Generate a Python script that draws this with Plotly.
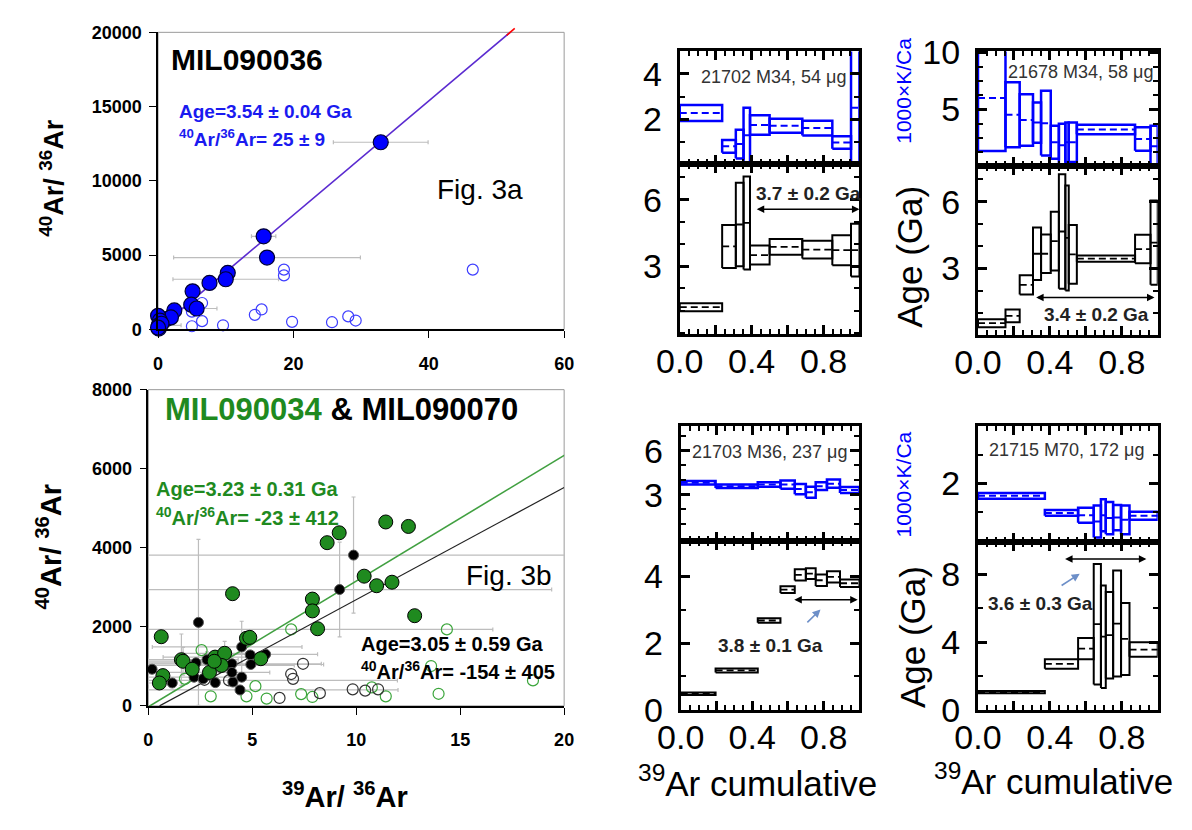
import plotly.graph_objects as go

W, H = 1192, 830
FONT = "Liberation Sans, Arial, Helvetica, sans-serif"
BLUE = "#0000ff"
TXTBLUE = "#1a1af0"
GREEN = "#1f8a1f"
GREEN_LINE = "#41a041"
GRAY = "#bdbdbd"

# ---------------- Fig. 3a  MIL090036 isochron ----------------
a_fill_x = [32.9, 15.6, 16.1, 10.3, 10.0, 7.6, 5.1, 4.9, 5.7, 2.4, 1.25, 1.9, 0.0, 0.27, 0.1, 0.1, 0.5, 0.0]
a_fill_y = [12600, 6270, 4840, 3810, 3380, 3130, 2570, 1670, 1410, 1280, 700, 810, 920, 600, 280, 60, 385, 130]
a_fill_ex = [7.0, 1.8, 13.8, 0, 7.8, 0, 0, 0, 3.0, 0, 0, 0, 1.5, 0, 3.3, 0, 0, 0]
a_open_x = [46.5, 18.6, 18.6, 15.3, 14.3, 19.8, 25.7, 28.1, 29.2, 9.6, 6.5, 6.5, 5.0, 5.0]
a_open_y = [4030, 4030, 3640, 1350, 985, 514, 490, 880, 600, 280, 560, 1780, 215, 1200]
a_fit_x = [0, 52.6]
a_fit_y = [25, 20225]
a_tail_x = [51.5, 52.7]
a_tail_y = [19800, 20260]

# ---------------- Fig. 3b  MIL090034 & MIL090070 ----------------
b_green_x = [0.62, 0.70, 0.53, 1.59, 1.67, 2.11, 2.94, 3.21, 3.67, 3.52, 4.05, 4.72, 4.88, 5.41,
             7.89, 7.89, 8.14, 8.60, 9.18, 10.38, 10.98, 11.42, 11.72, 12.51, 12.81, 3.17]
b_green_y = [1750, 766, 580, 1169, 1129, 927, 847, 1234, 1331, 1024, 2839, 1710, 1734, 1194,
             2702, 2403, 1952, 4129, 4379, 3282, 3040, 4653, 3129, 4540, 2282, 1129]
b_black_x = [0.18, 1.15, 2.41, 2.20, 2.29, 2.82, 3.22, 4.02, 4.07, 4.41, 4.49, 4.90, 4.93, 5.64,
             9.20, 9.87, 4.49, 4.02, 2.64]
b_black_y = [927, 580, 2113, 726, 1089, 1169, 589, 1065, 605, 403, 1492, 1290, 1048, 1306,
             2944, 3815, 726, 847, 685]
b_gopen_x = [2.56, 3.0, 4.72, 5.15, 5.69, 6.87, 7.35, 7.89, 10.75, 11.42, 13.6, 13.96, 14.36, 18.5, 1.76]
b_gopen_y = [1411, 242, 242, 500, 185, 1935, 298, 226, 468, 242, 1008, 306, 1935, 645, 685]
b_kopen_x = [6.31, 6.96, 6.87, 7.44, 8.25, 9.83, 10.43, 11.05, 3.88, 2.7]
b_kopen_y = [202, 685, 806, 1065, 323, 419, 387, 419, 645, 660]
# error bars (points carrying visible gray error bars)
b_eb_x = [9.87, 9.20, 2.41, 6.87, 4.49, 1.59, 3.21, 3.52, 2.29, 4.02, 2.94, 2.20, 0.53, 4.93, 3.88, 4.41, 1.67, 3.67, 5.64, 2.82]
b_eb_y = [3815, 2944, 2113, 1935, 1492, 1169, 1234, 1024, 1089, 1065, 847, 726, 580, 1048, 645, 403, 1129, 1331, 1306, 1169]
b_eb_xm = [9.87, 9.20, 0, 6.87, 4.3, 1.59, 2.5, 3.5, 2.29, 4.0, 2.9, 2.2, 0.53, 3.5, 3.88, 4.41, 1.67, 2.0, 2.5, 2.82]
b_eb_xp = [10.6, 10.2, 0, 9.7, 2.9, 1.6, 2.5, 3.5, 2.2, 4.3, 2.9, 2.0, 0.6, 3.5, 8.1, 7.6, 1.0, 2.0, 2.5, 1.5]
b_eb_ey = [1470, 1200, 2100, 0, 650, 650, 0, 0, 0, 0, 0, 0, 0, 0, 0, 0, 350, 300, 0, 200]
b_green_fit_x = [0, 20.3]
b_green_fit_y = [-23, 6432]
b_black_fit_x = [0.54, 20.0]
b_black_fit_y = [0, 5526]

# ---------------- Step-heating spectra ----------------
s1_edges = [0, 0.236, 0.312, 0.355, 0.391, 0.50, 0.682, 0.849, 0.953, 1.0]
s1_kca = [2.27, 0.79, 0.89, 1.28, 1.74, 1.70, 1.60, 0.96, 2.5]
s1_kca_err = [0.35, 0.28, 0.64, 1.22, 0.43, 0.31, 0.33, 0.28, 4.0]
s1_age = [1.15, 3.89, 4.88, 4.95, 3.50, 3.87, 3.75, 3.72, 3.72]
s1_age_err = [0.18, 0.97, 1.88, 2.10, 0.43, 0.36, 0.40, 0.68, 1.19]

s2_edges = [0, 0.153, 0.232, 0.306, 0.351, 0.405, 0.45, 0.486, 0.505, 0.55, 0.874, 0.96, 1.0]
s2_kca = [6.0, 4.53, 4.06, 3.83, 3.78, 2.1, 1.83, 2.1, 2.1, 3.22, 2.39, 1.75]
s2_kca_err = [4.67, 2.86, 2.26, 1.78, 2.85, 1.46, 1.9, 1.75, 1.75, 0.42, 1.04, 1.8]
s2_age = [0.54, 0.87, 2.26, 3.66, 3.66, 4.23, 4.66, 4.37, 3.63, 3.44, 3.87, 4.16]
s2_age_err = [0.18, 0.29, 0.43, 1.18, 0.86, 1.32, 2.57, 2.36, 1.32, 0.14, 0.64, 1.89]

s3_edges = [0, 0.195, 0.431, 0.558, 0.638, 0.70, 0.755, 0.818, 0.891, 1.0]
s3_kca = [3.83, 3.59, 3.70, 3.70, 3.39, 3.17, 3.59, 3.76, 3.33]
s3_kca_err = [0.12, 0.12, 0.15, 0.28, 0.35, 0.38, 0.27, 0.28, 0.20]
s3_age = [0.48, 1.18, 2.68, 3.61, 4.05, 4.09, 3.89, 3.99, 3.80]
s3_age_err = [0.04, 0.06, 0.07, 0.10, 0.17, 0.16, 0.17, 0.17, 0.11]

s4_edges = [0, 0.372, 0.557, 0.644, 0.684, 0.711, 0.752, 0.796, 0.843, 1.0]
s4_kca = [1.78, 1.48, 1.44, 1.33, 1.44, 1.39, 1.40, 1.36, 1.43]
s4_kca_err = [0.05, 0.05, 0.13, 0.28, 0.28, 0.28, 0.22, 0.25, 0.07]
s4_age = [1.04, 2.71, 3.62, 5.06, 4.32, 4.41, 5.10, 4.19, 3.56]
s4_age_err = [0.07, 0.28, 0.63, 3.57, 3.03, 2.56, 3.14, 2.13, 0.43]

sample_labels = ["21702 M34, 54 μg", "21678 M34, 58 μg", "21703 M36, 237 μg", "21715 M70, 172 μg"]
plateau_labels = ["3.7 ± 0.2 Ga", "3.4 ± 0.2 Ga", "3.8 ± 0.1 Ga", "3.6 ± 0.3 Ga"]
plateau_x = [[0.42, 1.0], [0.315, 0.982], [0.627, 0.99], [0.476, 0.937]]
plateau_y = [5.57, 1.69, 3.3, 8.92]

# ------------------------------------------------------------
def px(x):
    return x / W


def py(y):
    return 1 - y / H


fig = go.Figure()

# ---- Fig 3a traces ----
sel = [(x, y, e) for x, y, e in zip(a_fill_x, a_fill_y, a_fill_ex) if e]
fig.add_trace(go.Scatter(x=[s[0] for s in sel], y=[s[1] for s in sel], mode="markers",
                         marker=dict(size=1, color="rgba(0,0,0,0)"),
                         error_x=dict(type="data", array=[s[2] for s in sel], color=GRAY, thickness=1.2, width=2),
                         xaxis="x", yaxis="y", hoverinfo="skip"))
fig.add_trace(go.Scatter(x=a_open_x, y=a_open_y, mode="markers",
                         marker=dict(symbol="circle-open", size=11, color="#3c3cff", line=dict(width=1.2)),
                         xaxis="x", yaxis="y", cliponaxis=False))
fig.add_trace(go.Scatter(x=a_fit_x, y=a_fit_y, mode="lines", line=dict(color="#5b2bd0", width=1.6),
                         xaxis="x", yaxis="y"))
fig.add_trace(go.Scatter(x=a_fill_x, y=a_fill_y, mode="markers",
                         marker=dict(size=15, color=BLUE, line=dict(color="#000033", width=1.2)),
                         xaxis="x", yaxis="y", cliponaxis=False))

# ---- Fig 3b traces ----
fig.add_trace(go.Scatter(x=b_eb_x, y=b_eb_y, mode="markers", marker=dict(size=1, color="rgba(0,0,0,0)"),
                         error_x=dict(type="data", symmetric=False, array=b_eb_xp, arrayminus=b_eb_xm,
                                      color=GRAY, thickness=1.2, width=2),
                         error_y=dict(type="data", array=b_eb_ey, color=GRAY, thickness=1.2, width=2),
                         xaxis="x2", yaxis="y2", hoverinfo="skip"))
fig.add_trace(go.Scatter(x=b_gopen_x, y=b_gopen_y, mode="markers",
                         marker=dict(symbol="circle-open", size=11, color="#3aa53a", line=dict(width=1.2)),
                         xaxis="x2", yaxis="y2", cliponaxis=False))
fig.add_trace(go.Scatter(x=b_kopen_x, y=b_kopen_y, mode="markers",
                         marker=dict(symbol="circle-open", size=11, color="#333333", line=dict(width=1.2)),
                         xaxis="x2", yaxis="y2", cliponaxis=False))
fig.add_trace(go.Scatter(x=b_green_fit_x, y=b_green_fit_y, mode="lines", line=dict(color=GREEN_LINE, width=1.6),
                         xaxis="x2", yaxis="y2"))
fig.add_trace(go.Scatter(x=b_black_fit_x, y=b_black_fit_y, mode="lines", line=dict(color="#222222", width=1.2),
                         xaxis="x2", yaxis="y2"))
fig.add_trace(go.Scatter(x=b_black_x, y=b_black_y, mode="markers",
                         marker=dict(size=10, color="black", line=dict(color="#555555", width=1)),
                         xaxis="x2", yaxis="y2", cliponaxis=False))
fig.add_trace(go.Scatter(x=b_green_x, y=b_green_y, mode="markers",
                         marker=dict(size=14, color=GREEN, line=dict(color="black", width=1)),
                         xaxis="x2", yaxis="y2", cliponaxis=False))


# ---- spectra ----
def boxes(edges, vals, errs):
    xs, ys, cx, cy = [], [], [], []
    for i, (v, e) in enumerate(zip(vals, errs)):
        x0, x1 = edges[i], edges[i + 1]
        xs += [x0, x1, x1, x0, x0, None]
        ys += [v - e, v - e, v + e, v + e, v - e, None]
        cx += [x0, x1, None]
        cy += [v, v, None]
    return xs, ys, cx, cy


spectra = [
    (s1_edges, s1_kca, s1_kca_err, s1_age, s1_age_err),
    (s2_edges, s2_kca, s2_kca_err, s2_age, s2_age_err),
    (s3_edges, s3_kca, s3_kca_err, s3_age, s3_age_err),
    (s4_edges, s4_kca, s4_kca_err, s4_age, s4_age_err),
]

for k, (edges, kca, kerr, age, aerr) in enumerate(spectra):
    ui, li = 3 + 2 * k, 4 + 2 * k
    xs, ys, cx, cy = boxes(edges, kca, kerr)
    fig.add_trace(go.Scatter(x=xs, y=ys, mode="lines", line=dict(color=BLUE, width=2.5),
                             xaxis=f"x{ui}", yaxis=f"y{ui}"))
    fig.add_trace(go.Scatter(x=cx, y=cy, mode="lines", line=dict(color=BLUE, width=2, dash="7px,4px"),
                             xaxis=f"x{ui}", yaxis=f"y{ui}"))
    xs, ys, cx, cy = boxes(edges, age, aerr)
    fig.add_trace(go.Scatter(x=xs, y=ys, mode="lines", line=dict(color="black", width=2),
                             xaxis=f"x{li}", yaxis=f"y{li}"))
    fig.add_trace(go.Scatter(x=cx, y=cy, mode="lines", line=dict(color="black", width=1.8, dash="7px,4px"),
                             xaxis=f"x{li}", yaxis=f"y{li}"))

# ---------------- layout ----------------
layout = dict(width=W, height=H, margin=dict(l=0, r=0, t=0, b=0), paper_bgcolor="white",
              plot_bgcolor="white", showlegend=False, font=dict(family=FONT, color="black"))

sc_tick = dict(family=FONT, size=18, color="black", weight="bold")
sc_axis = dict(showline=True, linecolor="black", linewidth=1.5, ticks="outside", ticklen=7, tickwidth=1.3,
               tickcolor="black", showgrid=False, zeroline=False, tickfont=sc_tick, mirror=False,
               tickformat="d")

layout["xaxis"] = dict(sc_axis, domain=[px(138), px(556)], range=[0, 60], tickvals=[0, 20, 40, 60],
                       anchor="y", ticklabelstandoff=10)
layout["yaxis"] = dict(sc_axis, domain=[py(326), py(15)], range=[0, 20000],
                       tickvals=[0, 5000, 10000, 15000, 20000], anchor="x", ticklabelstandoff=4)
layout["xaxis2"] = dict(sc_axis, domain=[px(128), px(556)], range=[0, 20], tickvals=[0, 5, 10, 15, 20],
                        anchor="y2", ticklabelstandoff=10)
layout["yaxis2"] = dict(sc_axis, domain=[py(720), py(389)], range=[0, 8000],
                        tickvals=[0, 2000, 4000, 6000, 8000], anchor="x2", ticklabelstandoff=4)

sp_font = dict(family=FONT, size=34, color="black")
sp_common = dict(showline=True, linecolor="black", linewidth=3, mirror="ticks", ticks="inside", ticklen=9,
                 tickwidth=2.5, tickcolor="black", showgrid=False, zeroline=False, tickfont=sp_font)

panels = [
    dict(x=(675, 860), yt=35, yd=153, yb=331, kr=[0, 5.0], ar=[-0.07, 7.6], kt=[2, 4], km=1, at=[3, 6], am=1),
    dict(x=(982, 1167), yt=35, yd=155, yb=332, kr=[0, 10.1], ar=[0, 7.6], kt=[5, 10], km=1.25, at=[3, 6], am=1),
    dict(x=(676, 860), yt=427, yd=547, yb=724, kr=[-0.13, 7.7], ar=[0, 5.08], kt=[3, 6], km=1, at=[0, 2, 4], am=1),
    dict(x=(982, 1167), yt=427, yd=548, yb=724, kr=[0.98, 3.0], ar=[0, 9.95], kt=[2], km=0.5, at=[0, 4, 8], am=2),
]
xt_vals = [0, 0.2, 0.4, 0.6, 0.8, 1.0]
xt_text = ["0.0", "", "0.4", "", "0.8", ""]


def minor(dt):
    return dict(ticks="inside", ticklen=5, tickwidth=2, tickcolor="black", tickmode="linear", tick0=0, dtick=dt,
                showgrid=False)


for k, p in enumerate(panels):
    ui, li = 3 + 2 * k, 4 + 2 * k
    xd = [px(p["x"][0]), px(p["x"][1])]
    layout[f"xaxis{ui}"] = dict(sp_common, domain=xd, range=[0, 1], tickvals=xt_vals, showticklabels=False,
                                anchor=f"y{ui}", minor=minor(0.05))
    layout[f"yaxis{ui}"] = dict(sp_common, domain=[py(p["yd"]), py(p["yt"])], range=p["kr"],
                                tickvals=p["kt"], ticktext=[str(v) for v in p["kt"]], anchor=f"x{ui}",
                                minor=minor(p["km"]), ticklabelstandoff=8)
    layout[f"xaxis{li}"] = dict(sp_common, domain=xd, range=[0, 1], tickvals=xt_vals, ticktext=xt_text,
                                anchor=f"y{li}", minor=minor(0.05), ticklabelstandoff=-5)
    layout[f"yaxis{li}"] = dict(sp_common, domain=[py(p["yb"]), py(p["yd"])], range=p["ar"],
                                tickvals=p["at"], ticktext=[str(v) for v in p["at"]], anchor=f"x{li}",
                                minor=minor(p["am"]), ticklabelstandoff=8)

# gray top/right frames on the isochron plots
shapes = []
for ax in ["", "2"]:
    shapes.append(dict(type="rect", xref=f"x{ax} domain", yref=f"y{ax} domain", x0=0, x1=1, y0=0, y1=1,
                       line=dict(color="#9a9a9a", width=1), layer="below"))
# red tail of the 3a fit line (runs just past the frame)
shapes.append(dict(type="line", xref="x domain", yref="y domain",
                   x0=a_tail_x[0] / 60, x1=a_tail_x[1] / 60, y0=a_tail_y[0] / 20000, y1=a_tail_y[1] / 20000,
                   line=dict(color="red", width=1.6)))
layout["shapes"] = shapes

ann = []


def text(t, x, y, size, color="black", bold=False, xanchor="center", angle=0):
    if bold:
        t = f"<b>{t}</b>"
    ann.append(dict(text=t, x=px(x), y=py(y), xref="paper", yref="paper", showarrow=False,
                    xanchor=xanchor, yanchor="middle", textangle=angle,
                    font=dict(family=FONT, size=size, color=color)))


# Fig 3a texts
text("MIL090036", 149, 43, 30, bold=True, xanchor="left")
text("Age=3.54 ± 0.04 Ga", 158, 98, 19, TXTBLUE, True, "left")
text("<sup>40</sup>Ar/<sup>36</sup>Ar= 25 ± 9", 158, 126, 19, TXTBLUE, True, "left")
text("Fig. 3a", 423, 180, 28, xanchor="left")
text("<sup>40</sup>Ar/ <sup>36</sup>Ar", 28, 167, 27, bold=True, angle=-90)

# Fig 3b texts
text(f"<span style='color:{GREEN}'>MIL090034</span> & MIL090070", 143, 410, 31, bold=True, xanchor="left")
text("Age=3.23 ± 0.31 Ga", 134, 493, 20, GREEN, True, "left")
text("<sup>40</sup>Ar/<sup>36</sup>Ar= -23 ± 412", 134, 522, 20, GREEN, True, "left")
text("Age=3.05 ± 0.59 Ga", 345, 655, 20, "black", True, "left")
text("<sup>40</sup>Ar/<sup>36</sup>Ar= -154 ± 405", 345, 683, 20, "black", True, "left")
text("Fig. 3b", 453, 584, 28, xanchor="left")
text("<sup>40</sup>Ar/ <sup>36</sup>Ar", 26, 553, 29, bold=True, angle=-90)
text("<sup>39</sup>Ar/ <sup>36</sup>Ar", 330, 813, 29, bold=True)

# spectra texts
sample_pos = [(771, 62), (1088, 57), (768, 454), (1074, 452)]
plateau_pos = [(808, 184), (1104, 310), (768, 657), (1046, 613)]
for k in range(4):
    text(sample_labels[k], sample_pos[k][0], sample_pos[k][1], 18, "#333333")
    text(plateau_labels[k], plateau_pos[k][0], plateau_pos[k][1], 19, "#222222", True)
    li = 4 + 2 * k
    ann.append(dict(x=plateau_x[k][1], y=plateau_y[k], ax=plateau_x[k][0], ay=plateau_y[k],
                    xref=f"x{li}", yref=f"y{li}", axref=f"x{li}", ayref=f"y{li}", text="",
                    showarrow=True, arrowhead=2, arrowside="end+start", arrowsize=1, arrowwidth=1.5,
                    arrowcolor="black", standoff=0, startstandoff=0))

# small blue pointer arrows
ann.append(dict(x=0.782, y=3.01, ax=0.70, ay=2.58, xref="x8", yref="y8", axref="x8", ayref="y8", text="",
                showarrow=True, arrowhead=2, arrowsize=1, arrowwidth=1.6, arrowcolor="#6d8fc8"))
ann.append(dict(x=0.566, y=8.05, ax=0.457, ay=7.29, xref="x10", yref="y10", axref="x10", ayref="y10", text="",
                showarrow=True, arrowhead=2, arrowsize=1, arrowwidth=1.6, arrowcolor="#6d8fc8"))

text("Age (Ga)", 912, 250, 35, angle=-90)
text("Age (Ga)", 914, 648, 35, angle=-90)
text("1000×K/Ca", 905, 76, 21, BLUE, angle=-90)
text("1000×K/Ca", 905, 488, 21, BLUE, angle=-90)
text("<sup>39</sup>Ar cumulative", 755, 799, 35)
text("<sup>39</sup>Ar cumulative", 1060, 797, 35)

layout["annotations"] = ann
fig.update_layout(layout)

fig.write_html("out.html", config={"displayModeBar": False},
               post_script="document.body.style.margin='0';document.body.style.overflow='hidden';")
